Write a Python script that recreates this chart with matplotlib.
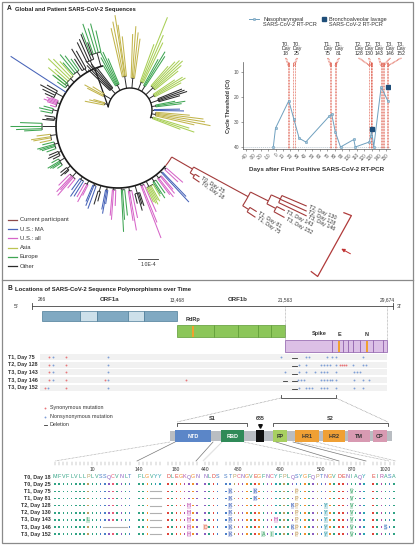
import numpy as np
import matplotlib
matplotlib.use('Agg')
import matplotlib.pyplot as plt
from matplotlib.patches import Rectangle

plt.rcParams['font.family'] = ['Liberation Sans Narrow', 'Liberation Sans', 'DejaVu Sans']

# ---------------- data: Ct values (panel A inset)
np_days = [-3, 0, 18, 25, 32, 41, 73, 76, 81, 88, 106, 108, 127, 129, 130, 133, 143, 152]
np_ct = [40, 32.5, 21.5, 29, 36.5, 38, 27.6, 26.8, 34, 40, 37, 40, 38, 35.5, 33, 40, 16, 21.5]
bal_days = [130, 152]
bal_ct = [33, 16]
seq_days = [18, 25, 75, 81, 128, 130, 143, 146, 152]
seq_tags = ['T0,', 'T0,', 'T1,', 'T1,', 'T2,', 'T2,', 'T3,', 'T3,', 'T3,']
seq_label_x = [286, 297, 328, 339, 359, 369, 379, 390, 401]

# ---------------- data: tree (angle, stem, child offsets, child lengths, region)
main_clades = [
    (106, 14, [-3, -1, 1, 3, 5], [22, 30, 26, 32, 24], 'E'),
    (113, 9, [-3, -1, 1, 3], [18, 28, 24, 22], 'O'),
    (120, 4, [-1, 1, 3], [20, 24, 14], 'O'),
    (127, 6, [-2, 0, 2, 4], [14, 20, 24, 16], 'E'),
    (135, 5, [-3, -1, 1, 3, 5, 7], [20, 26, 30, 18, 24, 14], 'L'),
    (141, 3, [-1, 1, 3], [14, 18, 10], 'E'),
    (147, 0, [0], [66], 'M'),
    (152, 8, [-2, 0, 2, 4], [12, 18, 14, 10], 'O'),
    (159, 3, [-2, -1, 0, 1, 2, 4], [8, 12, 10, 14, 10, 6], 'U'),
    (166, 5, [-1, 1, 3], [10, 14, 12], 'E'),
    (173, 2, [-1, 1, 2], [10, 8, 12], 'O'),
    (180, 14, [-2, 0, 2, 3], [22, 32, 26, 18], 'E'),
    (188, 6, [-1, 1, 2, 4], [14, 20, 18, 12], 'A'),
    (196, 4, [-2, 0, 1, 2, 4], [12, 18, 16, 14, 10], 'E'),
    (204, 3, [-1, 1, 3], [10, 12, 8], 'O'),
    (211, 6, [-2, 0, 1, 2, 4], [8, 14, 12, 10, 6], 'E'),
    (220, 4, [-1, 1, 2], [8, 10, 6], 'O'),
    (228, 6, [-3, -1, 0, 1, 3], [16, 22, 18, 24, 12], 'U'),
    (235, 3, [-1, 1, 3], [14, 20, 18], 'M'),
    (242, 4, [-2, 0, 1], [16, 20, 12], 'U'),
    (248, 2, [-1, 0, 2], [18, 22, 24], 'M'),
    (254, 6, [-1, 1], [14, 10], 'O'),
    (260, 3, [-1, 0, 1], [20, 24, 14], 'M'),
    (266, 2, [-1, 0, 2], [26, 30, 16], 'U'),
    (273, 2, [0, 1, 3], [42, 30, 26], 'E'),
    (280, 4, [-1, 0, 2], [30, 40, 28], 'U'),
    (286, 8, [-2, 0, 1, 2], [10, 18, 12, 14], 'O'),
    (291, 2, [0, 1, 3], [56, 40, 30], 'U'),
    (297, 6, [-2, -1, 0, 1, 2, 4], [16, 18, 20, 16, 18, 14], 'L'),
    (303, 4, [-1, 0, 2], [14, 20, 16], 'E'),
    (308, 4, [-1, 0, 2, 3], [20, 24, 22, 18], 'U'),
    (313, 2, [0, 1], [40, 34], 'M'),
    (318, 2, [-1, 1], [18, 22], 'U'),
]
top_clades = [
    (166, 4, [-2, 0, 3], [12, 16, 20], 'A'),
    (150, 8, [-2, 1, 3], [14, 22, 18], 'A'),
    (132, 6, [-4, -2, 0, 2, 4], [26, 32, 38, 34, 30], 'O'),
    (117, 6, [-4, -2, 0, 2, 4], [28, 36, 38, 32, 24], 'E'),
    (99, 12, [-3, -1, 0, 2, 4], [40, 52, 62, 56, 50], 'A'),
    (85, 10, [-3, -1, 1, 3], [40, 46, 52, 44], 'A'),
    (68, 8, [-4, -2, 0, 2], [45, 52, 70, 40], 'L'),
    (58, 6, [-1, 1, 3], [36, 40, 30], 'E'),
    (44, 10, [-5, -3, -1, 1, 3, 5], [30, 36, 40, 38, 34, 26], 'L'),
    (31, 6, [-3, -1, 1, 3], [30, 36, 34, 26], 'L'),
    (19, 8, [-3, -1, 1, 3], [22, 30, 28, 26], 'O'),
    (9, 4, [-2, 0, 2], [26, 30, 20], 'E'),
    (0, 2, [-1, 1], [30, 26], 'M'),
    (-10, 4, [-3, -1, 1, 3, 5], [40, 56, 50, 48, 34], 'A'),
    (-19, 2, [-2, 0, 2], [30, 44, 38], 'L'),
]
# patient clade: parent index, angle, radius, label
pt_parent = [-1, 0, 1, 2, 2, 1, 5, 6, 6, 5, 9, 10, 10, 10, 9, 14, 14]
pt_ang = [-40, -30, -33, -32, -34.6, -28.5, -32.6, -31.7, -33.6, -26.5, -24.2, -23.0, -24.3, -25.5, -27.6, -26.9, -28.8]
pt_rad = [62, 86, 91, 96, 99, 148, 155, 163, 165, 168, 178, 205, 207, 209, 178, 187, 190]
pt_label = ['', '', '', 'T0, Day 25', 'T0, Day 18', '', '', 'T1, Day 81', 'T1, Day 75', '', '',
            'T2, Day 130', 'T2, Day 128', 'T3, Day 146', '', 'T3, Day 143', 'T3, Day 152']
legend_names = ['Current participant', 'U.S.: MA', 'U.S.: all', 'Asia', 'Europe', 'Other']
legend_cols = ['#8e4a4a', '#4763b8', '#d665c8', '#bcc452', '#3fa553', '#2b2b2b']
region_col = {'M': '#4763b8', 'U': '#d665c8', 'A': '#c2b54c', 'L': '#a9cf56', 'E': '#3fa553', 'O': '#2b2b2b'}
red = '#a23a3a'

# ---------------- data: genome map (panel B)
genome_marks = [266, 13468, 21563, 29674]
orf1a_bounds = [266, 3982, 5645, 8676, 10241, 13468]
orf1b_bounds = [13468, 16241, 18040, 19539, 20513, 21563]
struct_bounds = [21563, 25300, 26175, 26573, 26970, 27527, 28561, 29356, 29674]
orange_sites = [14667, 25857, 28084]
mut_rows = ['T1, Day 75', 'T2, Day 128', 'T3, Day 143', 'T3, Day 146', 'T3, Day 152']
syn_pos = [
    [950, 2613],
    [950, 2613, 25937, 26096, 26255, 26414],
    [950, 2613],
    [950, 2613, 6427, 14143],
    [559, 2613],
]
nonsyn_pos = [
    [1342, 6720, 21263, 23233, 23471, 24903, 25300, 25619, 27766],
    [1342, 6720, 22677, 23233, 24426, 24664, 24903, 25141, 25619, 26970, 27766, 28004],
    [1342, 6720, 21563, 22677, 23233, 23949, 24426, 24664, 24903, 25619, 27050, 27289, 27527],
    [1342, 6720, 22597, 22835, 23074, 24426, 24664, 24903, 25141, 25300, 25619, 27050, 27766, 28243],
    [853, 6720, 22677, 23233, 23471, 23710, 24426, 24664, 24903, 25619, 27050, 27766],
]
del_pos = [
    [(22120, 22517)],
    [(22120, 22517)],
    [(22120, 22517)],
    [(21413, 21722), (22120, 22517)],
    [(22120, 22517)],
]

# ---------------- data: spike alignment
seq_groups = ['MFVFLVLLPLVSSQCVNLT', 'FLGVYY', 'DLEGKQGN', 'NLDS',
              'STPCNGVEGFNCYFPLQSYGFQPTNGV', 'DENIAQY', 'EIRASA']
seq_start = [1, 140, 178, 440, 477, 867, 1017]
ruler_aa = [10, 140, 180, 440, 480, 490, 500, 870, 1020]
aln_rows = ['T0, Day 18', 'T0, Day 25', 'T1, Day 75', 'T1, Day 81', 'T2, Day 128',
            'T2, Day 130', 'T3, Day 143', 'T3, Day 146', 'T3, Day 152']
aln_subs = [
    [],
    [],
    [(478, 'K'), (484, 'K'), (494, 'P'), (870, 'V')],
    [(478, 'K'), (484, 'K'), (494, 'P'), (870, 'V')],
    [(183, 'H'), (478, 'K'), (493, 'K'), (494, 'P'), (501, 'Y'), (870, 'V')],
    [(183, 'H'), (478, 'K'), (494, 'P'), (501, 'Y'), (870, 'V')],
    [(9, 'L'), (183, 'H'), (478, 'K'), (489, 'H'), (494, 'P'), (501, 'Y'), (870, 'V')],
    [(183, 'H'), (440, 'D'), (478, 'K'), (493, 'K'), (494, 'P'), (501, 'Y'), (870, 'V'), (1020, 'S')],
    [(183, 'H'), (478, 'K'), (486, 'A'), (488, 'I'), (494, 'P'), (501, 'Y'), (870, 'V')],
]
aln_dels = [[], [], [(143, 145)], [(143, 145)], [(143, 145)], [(143, 145)], [(143, 145)],
            [(13, 18), (143, 145)], [(143, 145)]]
spike_dom = ['NTD', 'RBD', '', 'FP', 'HR1', 'HR2', 'TM', 'CP']
aa_col = {}
for a in 'MFVLIA':
    aa_col[a] = '#30a384'
for a in 'Y':
    aa_col[a] = '#2aa2b0'
for a in 'ST':
    aa_col[a] = '#4a7fc8'
for a in 'NQ':
    aa_col[a] = '#8a5cc0'
for a in 'KRH':
    aa_col[a] = '#b04aa8'
for a in 'DE':
    aa_col[a] = '#e0443a'
aa_col['G'] = '#f0902c'
aa_col['P'] = '#b8a060'
aa_col['C'] = '#e85c78'
sub_col = {'K': '#3a5cb8', 'H': '#c050b0', 'P': '#c8a060', 'Y': '#2a9aa8', 'V': '#30a060',
           'L': '#30a060', 'D': '#e06040', 'S': '#3a78c0', 'A': '#30a060', 'I': '#30a060'}

# ================= figure
fig = plt.figure(figsize=(4.16, 5.46), dpi=100)
ov = fig.add_axes([0, 0, 1, 1])
ov.set_xlim(0, 416)
ov.set_ylim(546, 0)
ov.axis('off')

txt = '#333333'

# frame and divider
ov.add_patch(Rectangle((2, 2), 411, 541, fill=False, ec='#8a8a8a', lw=0.9))
ov.plot([2, 413], [280, 280], color='#8a8a8a', lw=0.9)
ov.text(7, 9, 'A', fontsize=4.8, weight='bold', va='center', color='#222')
ov.text(15, 9, 'Global and Patient SARS-CoV-2 Sequences', fontsize=4.2, weight='bold', va='center', color='#222')
ov.text(7, 289, 'B', fontsize=4.8, weight='bold', va='center', color='#222')
ov.text(15, 289, 'Locations of SARS-CoV-2 Sequence Polymorphisms over Time', fontsize=4.2,
        weight='bold', va='center', color='#222')


# ---------------- tree
def pol(cx, cy, r, a):
    a = np.radians(a)
    return cx + r * np.cos(a), cy - r * np.sin(a)


def arc(cx, cy, r, a1, a2, **kw):
    t = np.linspace(a1, a2, int(abs(a2 - a1)) + 2)
    x, y = pol(cx, cy, r, t)
    ov.plot(x, y, solid_capstyle='butt', **kw)


def radial(cx, cy, a, r1, r2, **kw):
    x1, y1 = pol(cx, cy, r1, a)
    x2, y2 = pol(cx, cy, r2, a)
    ov.plot([x1, x2], [y1, y2], solid_capstyle='butt', **kw)


def draw_clades(cx, cy, R, clades):
    for ang, stem, offs, lens, reg in clades:
        r0 = R + stem
        if stem > 0:
            radial(cx, cy, ang, R, r0, color='#2b2b2b', lw=0.7)
        if len(offs) > 1:
            arc(cx, cy, r0, ang + min(offs), ang + max(offs), color='#2b2b2b', lw=0.7)
        for o, L in zip(offs, lens):
            radial(cx, cy, ang + o, r0, r0 + L, color=region_col[reg], lw=0.75)


mcx, mcy, mR = 118, 126, 62
tcx, tcy, tR = 130, 110, 22
arc(mcx, mcy, mR, 104, 320, color='#1a1a1a', lw=1.2)
arc(tcx, tcy, tR, -22, 172, color='#1a1a1a', lw=1.0)
p1 = pol(mcx, mcy, mR, 112)
p2 = pol(tcx, tcy, tR, 172)
ov.plot([p1[0], p2[0]], [p1[1], p2[1]], color='#1a1a1a', lw=0.9)
draw_clades(mcx, mcy, mR, main_clades)
draw_clades(tcx, tcy, tR, top_clades)

for i in range(1, len(pt_parent)):
    p = pt_parent[i]
    arc(mcx, mcy, pt_rad[p], pt_ang[p], pt_ang[i], color=red, lw=0.8)
    radial(mcx, mcy, pt_ang[i], pt_rad[p], pt_rad[i], color=red, lw=0.8)
    if pt_label[i]:
        x, y = pol(mcx, mcy, pt_rad[i] + 2, pt_ang[i])
        ov.text(x, y, pt_label[i], fontsize=3.9, color=txt, rotation=pt_ang[i],
                rotation_mode='anchor', ha='left', va='center')
# bracket + arrow
b1, b2 = pol(mcx, mcy, 250, -21), pol(mcx, mcy, 250, -37)
b1i, b2i = pol(mcx, mcy, 242, -21), pol(mcx, mcy, 242, -37)
ov.plot([b1i[0], b1[0], b2[0], b2i[0]], [b1i[1], b1[1], b2[1], b2i[1]], color='#b03a3a', lw=0.9)
ov.annotate('', xy=pol(mcx, mcy, 252, -28.8), xytext=pol(mcx, mcy, 268, -28.8),
            arrowprops=dict(arrowstyle='-|>', color='#c03030', lw=0.7, mutation_scale=5))

# legend + scale bar
for k, (nm, c) in enumerate(zip(legend_names, legend_cols)):
    yy = 220 + k * 9.2
    ov.plot([8, 17], [yy, yy], color=c, lw=0.9)
    ov.text(19.5, yy, nm, fontsize=4.2, color=txt, va='center')
ov.plot([138, 158], [259, 259], color='#333', lw=0.6)
ov.text(148, 262, '1.0E-4', fontsize=3.8, color=txt, ha='center', va='top')

# ---------------- Ct inset chart
ax = fig.add_axes([243 / 416, 1 - 149 / 546, 147 / 416, 87 / 546], facecolor='none')
ax.set_xlim(-44, 155)
ax.set_ylim(40.8, 6)
for s in ['top', 'right']:
    ax.spines[s].set_visible(False)
for s in ['left', 'bottom']:
    ax.spines[s].set_color('#555')
    ax.spines[s].set_linewidth(0.5)
ax.set_xticks(np.arange(-40, 151, 10))
ax.set_xticklabels([str(v) for v in np.arange(-40, 151, 10)], rotation=45, ha='right',
                   rotation_mode='anchor', fontsize=3.3, color=txt)
ax.set_yticks([10, 20, 30, 40])
ax.set_yticklabels(['10', '20', '30', '40'], fontsize=3.5, color=txt)
ax.tick_params(length=1.5, width=0.4, pad=1, colors='#555')
ax.set_ylabel('Cycle Threshold (Ct)', fontsize=4, weight='bold', color=txt, labelpad=2)
ax.set_xlabel('Days after First Positive SARS-CoV-2 RT-PCR', fontsize=4.5, weight='bold',
              color=txt, labelpad=4)
ax.axhline(40, color='#9aaab8', lw=0.4, ls=(0, (2, 1.5)))
rl = '#dd5443'
for d in seq_days:
    for off in (-0.8, 0.8):
        ax.plot([d + off, d + off], [40.8, 6], color=rl, lw=0.55, ls=(0, (1, 1)))
ax.plot(np_days, np_ct, color='#6fa0bf', lw=0.7, marker='o', ms=1.8, mfc='#a6c8dc',
        mec='#5a8fb0', mew=0.3, zorder=3)
ax.plot(bal_days, bal_ct, ls='none', marker='s', ms=2.2, color='#1f4e79', zorder=4)


def to_ov(x, y):
    disp = ax.transData.transform((x, y))
    return ov.transData.inverted().transform(disp)


for d, tag, lx in zip(seq_days, seq_tags, seq_label_x):
    ov.text(lx, 41, tag + '\nDay\n' + str(d), fontsize=3.8, color=txt, ha='center', va='top',
            linespacing=1.05)
    for off in (-0.8, 0.8):
        top = to_ov(d + off, 6)
        ov.plot([lx + off * 0.7, top[0]], [58, top[1] + 4], color=rl, lw=0.55, ls=(0, (1, 1)))
        ov.plot([top[0], top[0]], [top[1] + 4, top[1]], color=rl, lw=0.55, ls=(0, (1, 1)))

# chart legend
ov.plot([249, 259], [19, 19], color='#6fa0bf', lw=0.7)
ov.plot([254], [19], marker='o', ms=1.8, mfc='#a6c8dc', mec='#5a8fb0', mew=0.3)
ov.text(263, 22, 'Nasopharyngeal\nSARS-CoV-2 RT-PCR', fontsize=4, color=txt, va='center',
        linespacing=1.1)
ov.plot([324], [19], marker='s', ms=2.2, color='#1f4e79')
ov.text(329, 22, 'Bronchoalveolar lavage\nSARS-CoV-2 RT-PCR', fontsize=4, color=txt, va='center',
        linespacing=1.1)

# ---------------- genome map
g_nt = [1] + genome_marks + [29903]
g_px = [32, 42, 177, 285, 387, 393]


def gx(nt):
    return np.interp(nt, g_nt, g_px)


ov.plot([32, 393], [306, 306], color='#444', lw=0.6)
ov.plot([32, 32], [303, 309], color='#444', lw=0.6)
ov.plot([393, 393], [303, 309], color='#444', lw=0.6)
ov.text(14, 306, "5'", fontsize=4.5, color=txt, va='center')
ov.text(397, 306, "3'", fontsize=4.5, color=txt, va='center')
for m in genome_marks:
    ov.text(gx(m), 299.5, f'{m:,}', fontsize=3.5, color=txt, ha='center', va='center')
ov.text(gx(6900), 299.5, 'ORF1a', fontsize=4.4, weight='bold', color=txt, ha='center', va='center')
ov.text(gx(18000), 299.5, 'ORF1b', fontsize=4.4, weight='bold', color=txt, ha='center', va='center')
for m in genome_marks[2:]:
    ov.plot([gx(m), gx(m)], [307, 340], color='#999', lw=0.5, ls=(0, (1, 1)))

for k in range(len(orf1a_bounds) - 1):
    x0, x1 = gx(orf1a_bounds[k]), gx(orf1a_bounds[k + 1])
    ov.add_patch(Rectangle((x0, 311), x1 - x0, 10, fc='#80a9c2' if k % 2 == 0 else '#cde0ea',
                           ec='#4c7c98', lw=0.5))
for k in range(len(orf1b_bounds) - 1):
    x0, x1 = gx(orf1b_bounds[k]), gx(orf1b_bounds[k + 1])
    ov.add_patch(Rectangle((x0, 325), x1 - x0, 12, fc='#8cc65a', ec='#5c9a32', lw=0.5))
for k in range(len(struct_bounds) - 1):
    x0, x1 = gx(struct_bounds[k]), gx(struct_bounds[k + 1])
    ov.add_patch(Rectangle((x0, 340), x1 - x0, 12, fc='#dcc0e6', ec='#8a5aa8', lw=0.5))
for s in orange_sites:
    yb = 325 if s < 21563 else 340
    ov.add_patch(Rectangle((gx(s) - 1, yb + 0.5), 2, 11, fc='#f0a030', ec='none'))
ov.text(gx(14667), 319, 'RdRp', fontsize=4, weight='bold', color=txt, ha='center', va='center')
ov.text(gx(24300), 334, 'Spike', fontsize=4, weight='bold', color=txt, ha='center', va='center')
ov.text(gx(25857), 334, 'E', fontsize=4, weight='bold', color=txt, ha='center', va='center')
ov.text(gx(28084), 334, 'N', fontsize=4, weight='bold', color=txt, ha='center', va='center')

row_y = [357 + 7.7 * k for k in range(len(mut_rows))]
for k, nm in enumerate(mut_rows):
    y = row_y[k]
    ov.add_patch(Rectangle((40, y - 3), 347, 6, fc='#f1f1f1', ec='none', zorder=0))
    ov.text(8, y, nm, fontsize=3.9, weight='bold', color=txt, va='center')
    ov.scatter(gx(np.array(syn_pos[k])), [y] * len(syn_pos[k]), s=1.8, color='#e8767a', lw=0, zorder=3)
    ov.scatter(gx(np.array(nonsyn_pos[k])), [y] * len(nonsyn_pos[k]), s=1.8, color='#7f9fd6', lw=0, zorder=3)
    for a, b in del_pos[k]:
        ov.plot([gx(a), gx(b)], [y + 1.3, y + 1.3], color='#333', lw=0.6)

ov.scatter([45], [408], s=1.8, color='#e8767a', lw=0)
ov.text(50, 408, 'Synonymous mutation', fontsize=3.9, color=txt, va='center')
ov.scatter([45], [416.5], s=1.8, color='#7f9fd6', lw=0)
ov.text(50, 416.5, 'Nonsynonymous mutation', fontsize=3.9, color=txt, va='center')
ov.plot([43.5, 46.5], [425, 425], color='#333', lw=0.6)
ov.text(50, 425, 'Deletion', fontsize=3.9, color=txt, va='center')

# spike bracket and zoom lines
ov.plot([281, 281, 336, 336], [395, 398, 398, 395], color='#444', lw=0.6)
ov.plot([281, 177], [398, 422], color='#888', lw=0.5, ls=(0, (1, 1)))
ov.plot([336, 388], [398, 422], color='#888', lw=0.5, ls=(0, (1, 1)))

# spike domains (schematic)
dom_x0 = [175, 221, 256, 273, 295, 323, 348, 373]
dom_x1 = [211, 244, 264, 287, 319, 345, 370, 387]
dom_fc = ['#5b86c8', '#2f8a58', '#111111', '#a8d060', '#f0a034', '#f0a034', '#d89ab2', '#d89ab2']
dom_tc = ['white', 'white', 'white', txt, txt, txt, txt, txt]
ov.add_patch(Rectangle((170, 431), 222, 10, fc='#b9bdc2', ec='none'))
for nm, x0, x1, fc, tc in zip(spike_dom, dom_x0, dom_x1, dom_fc, dom_tc):
    ov.add_patch(Rectangle((x0, 430), x1 - x0, 12, fc=fc, ec='none'))
    if nm:
        ov.text((x0 + x1) / 2, 436, nm, fontsize=4, weight='bold', color=tc, ha='center', va='center')
ov.plot([177, 177, 247, 247], [426, 423, 423, 426], color='#444', lw=0.6)
ov.text(212, 419, 'S1', fontsize=4, weight='bold', color=txt, ha='center', va='center')
ov.plot([273, 273, 388, 388], [426, 423, 423, 426], color='#444', lw=0.6)
ov.text(330, 419, 'S2', fontsize=4, weight='bold', color=txt, ha='center', va='center')
ov.text(260, 418, '685', fontsize=3.8, weight='bold', color=txt, ha='center', va='center')
ov.plot([260], [425.5], marker='v', ms=2.6, color='#111')

# alignment
grp_x0 = [55, 139, 168, 205, 226, 339, 373]
cw = 4.15
conn_top = [170, 175, 213, 222, 244, 276, 293, 297, 316]
conn_bot = [55, 137, 196, 203, 334, 339, 366, 389, 396]
conn_ls = [':', '-', '-', ':', ':', '-', '-', ':', ':']
for t, b, ls in zip(conn_top, conn_bot, conn_ls):
    ov.plot([t, b], [442, 461], color='#777' if ls == '-' else '#999', lw=0.5,
            ls='-' if ls == '-' else (0, (1, 1)))


def col_x(aa):
    for g, (s, seq) in enumerate(zip(seq_start, seq_groups)):
        if s <= aa < s + len(seq):
            return grp_x0[g] + (aa - s) * cw
    return None


for g, (s, seq) in enumerate(zip(seq_start, seq_groups)):
    for i in range(len(seq)):
        x = grp_x0[g] + i * cw
        ov.plot([x, x], [462, 464.5], color='#999', lw=0.35)
for aa in ruler_aa:
    ov.text(col_x(aa), 469.5, str(aa), fontsize=3.6, color=txt, ha='center', va='center')

aln_y = [477 + 7.15 * k for k in range(len(aln_rows))]
for r, nm in enumerate(aln_rows):
    y = aln_y[r]
    ov.text(51, y, nm, fontsize=3.9, weight='bold', color=txt, ha='right', va='center')
    subs = dict(aln_subs[r])
    deleted = set()
    for a, b in aln_dels[r]:
        deleted.update(range(a, b + 1))
        ov.plot([col_x(a) - 1.5, col_x(b) + 1.5], [y, y], color='#b0b0b0', lw=0.8)
    dx, dy, dc = [], [], []
    for g, (s, seq) in enumerate(zip(seq_start, seq_groups)):
        for i, ch in enumerate(seq):
            aa = s + i
            x = grp_x0[g] + i * cw
            if aa in deleted:
                continue
            if r == 0:
                ov.text(x, y, ch, fontsize=3.9, color=aa_col[ch], ha='center', va='center')
            elif aa in subs:
                nc = subs[aa]
                c = sub_col.get(nc, aa_col[nc])
                ov.add_patch(Rectangle((x - 1.9, y - 2.9), 3.8, 5.8, fc=c, alpha=0.25, ec='none'))
                ov.text(x, y, nc, fontsize=3.9, color=c, ha='center', va='center')
            else:
                dx.append(x)
                dy.append(y)
                dc.append(aa_col[ch])
    if dx:
        ov.scatter(dx, dy, s=1.3, c=dc, marker='s', lw=0)

fig.savefig('out.png', dpi=100)
